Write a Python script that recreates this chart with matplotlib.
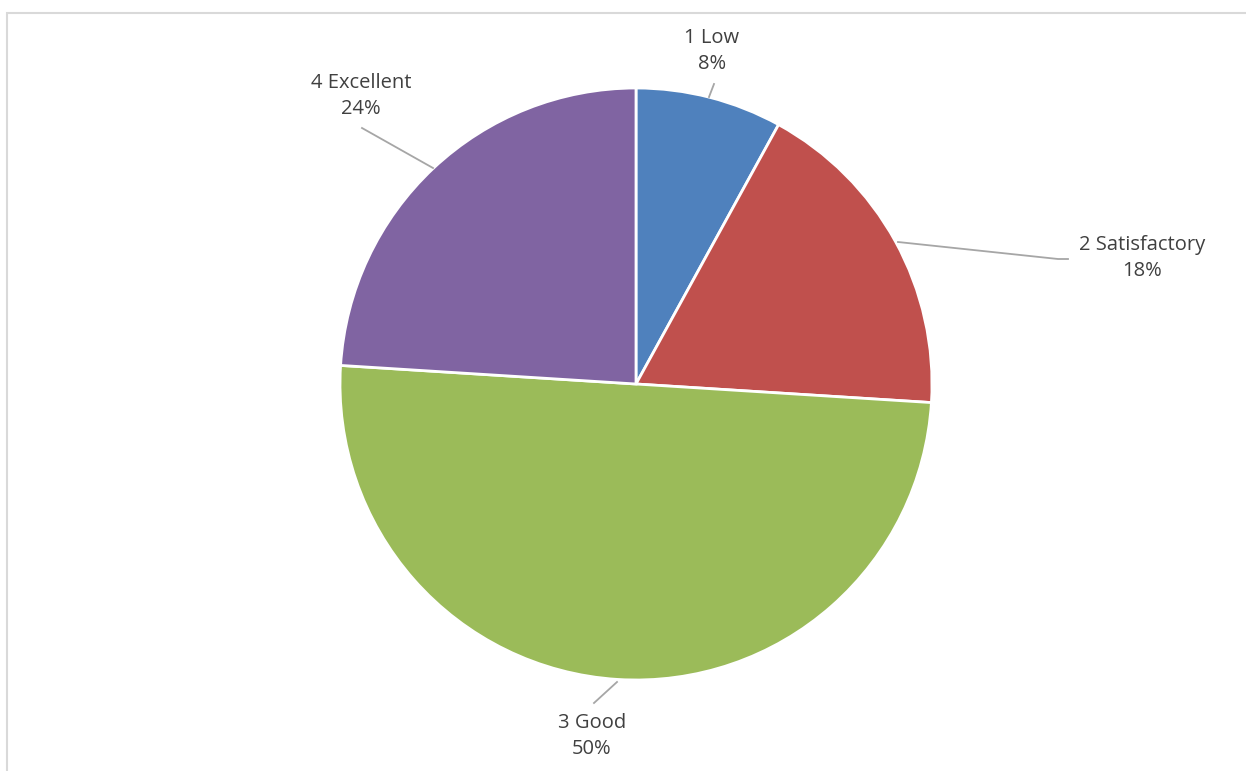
import matplotlib.pyplot as plt
from matplotlib.patches import Rectangle

labels = ["1 Low", "2 Satisfactory", "3 Good", "4 Excellent"]
shares = [8, 18, 50, 24]
colors = ["#4F81BD", "#C0504D", "#9BBB59", "#8064A2"]

W, H = 1246, 771
cx, cy, r = 636, 384, 296


def to_data(px, py):
    # pixel position in the picture -> pie data coords (radius 1)
    return (px - cx) / r, (cy - py) / r


# label centre and leader line (pixel positions)
label_pos = [(712, 51), (1142, 258), (592, 736), (361, 96)]
leaders = [
    [(714, 84), (709, 97)],
    [(898, 242), (1058, 259), (1068, 259)],
    [(617, 682), (594, 703)],
    [(362, 128), (433, 168)],
]

fig = plt.figure(figsize=(W / 100, H / 100), dpi=100)
fig.patches.append(Rectangle((7 / W, -0.1), 1.2, 1 - 13 / H + 0.1,
                             transform=fig.transFigure, fill=False,
                             edgecolor="#d9d9d9", linewidth=1.5))

ax = fig.add_axes([(cx - r) / W, (H - cy - r) / H, 2 * r / W, 2 * r / H])
ax.pie(shares, colors=colors, startangle=90, counterclock=False, radius=1,
       wedgeprops=dict(edgecolor="white", linewidth=2))
ax.set_xlim(-1, 1)
ax.set_ylim(-1, 1)
ax.set_aspect("auto")
ax.axis("off")

for lab, val, pos, line in zip(labels, shares, label_pos, leaders):
    x, y = to_data(*pos)
    ax.text(x, y, f"{lab}\n{val}%", ha="center", va="center", fontsize=14.5,
            family="Open Sans", color="#404040", linespacing=1.45,
            clip_on=False)
    pts = [to_data(*p) for p in line]
    ax.plot([p[0] for p in pts], [p[1] for p in pts], color="#a6a6a6",
            linewidth=1.3, clip_on=False)

fig.savefig("out.png", dpi=100)
